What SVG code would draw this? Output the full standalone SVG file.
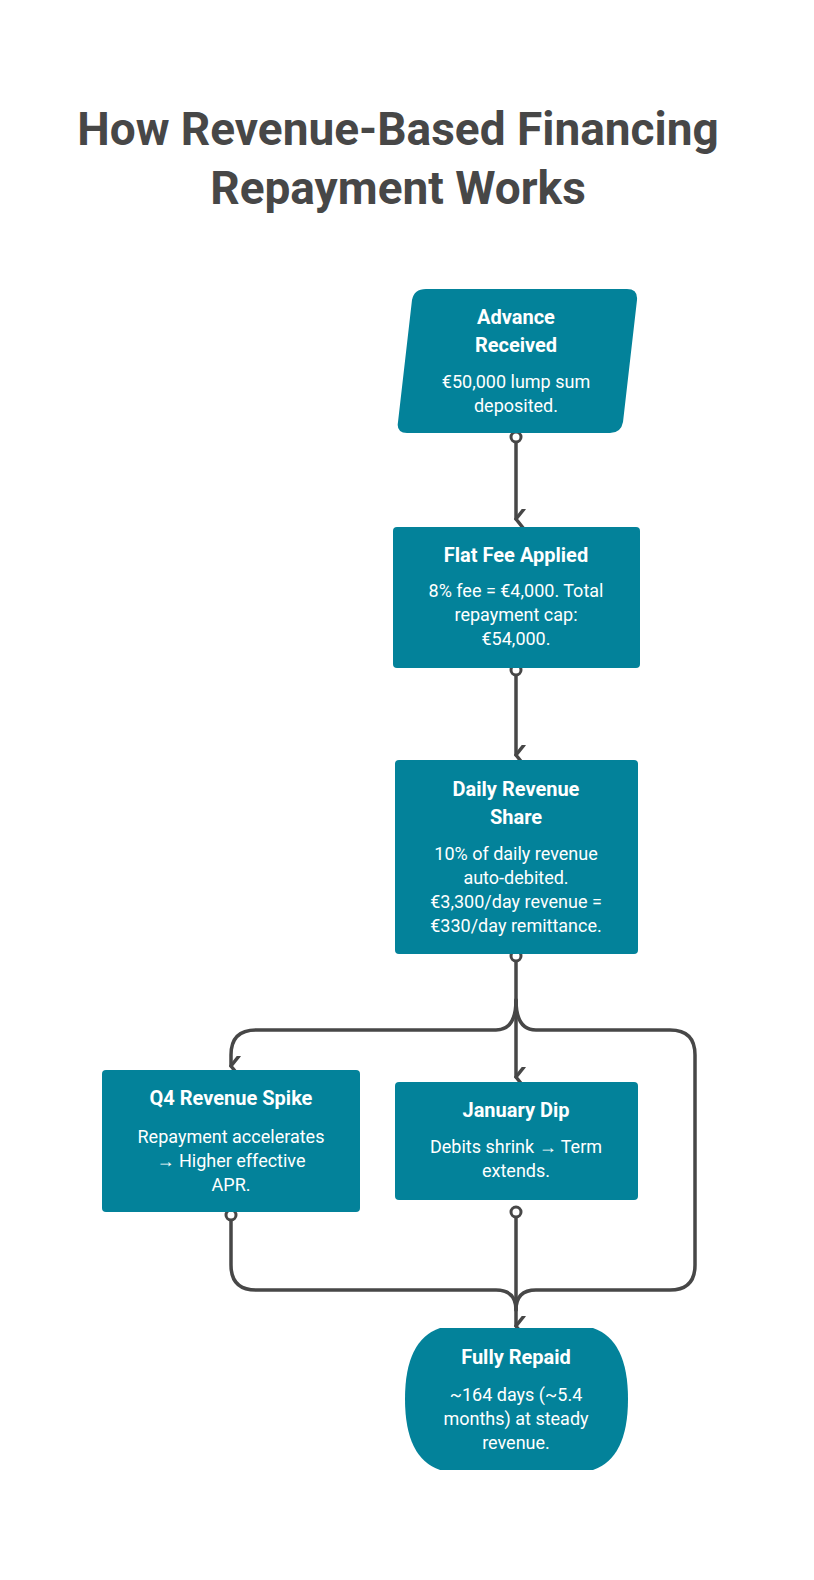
<svg xmlns="http://www.w3.org/2000/svg" width="814" height="1580" viewBox="0 0 814 1580">
<style>
.n{fill:#03829A}
.t{font-family:Roboto,"Liberation Sans",sans-serif;font-weight:700;font-size:20px;fill:#fff;text-anchor:middle}
.b{font-family:Roboto,"Liberation Sans",sans-serif;font-size:18px;fill:#fff;text-anchor:middle}
.h{font-family:Roboto,"Liberation Sans",sans-serif;font-weight:700;font-size:46px;fill:#474747;text-anchor:middle}
.c{fill:none;stroke:#474747;stroke-width:3.5;stroke-linecap:round;stroke-linejoin:round}
.d{fill:#fff;stroke:#474747;stroke-width:3}
</style>
<defs>
<marker id="a" viewBox="0 0 20 20" refX="10" refY="18" markerWidth="20" markerHeight="20" markerUnits="userSpaceOnUse" orient="auto-start-reverse">
<path d="M0 10 L10 18 L20 10" fill="none" stroke="#474747" stroke-width="3.5" stroke-linecap="round"/>
</marker>
</defs>
<rect width="814" height="1580" fill="#fff"/>
<text class="h" x="398" y="145">How Revenue-Based Financing</text>
<text class="h" x="398" y="204">Repayment Works</text>
<g id="connectors">
<path class="c" d="M516 437 V519" marker-end="url(#a)"/>
<path class="c" d="M516 670 V755" marker-end="url(#a)"/>
<path class="c" d="M516 956 V1077" marker-end="url(#a)"/>
<path class="c" d="M516 1000 Q516 1030 496 1030 H256 Q231 1030 231 1055 V1066" marker-end="url(#a)"/>
<path class="c" d="M516 1000 Q516 1030 536 1030 H670 Q695 1030 695 1055 V1265 Q695 1290 670 1290 H536 Q516 1290 516 1310"/>
<path class="c" d="M231 1215 V1265 Q231 1290 256 1290 H496 Q516 1290 516 1310"/>
<path class="c" d="M516 1212 V1326" marker-end="url(#a)"/>
<circle class="d" cx="516" cy="437" r="5"/>
<circle class="d" cx="516" cy="670" r="5"/>
<circle class="d" cx="516" cy="956" r="5"/>
<circle class="d" cx="231" cy="1215" r="5"/>
<circle class="d" cx="516" cy="1212" r="5"/>
</g>
<g id="n1">
<path class="n" d="M426 289 H627 Q638 289 637 300 L623 422 Q621 433 610 433 H407 Q396 433 398 422 L412 300 Q414 289 426 289 Z"/>
<text class="t" x="516" y="324">Advance</text>
<text class="t" x="516" y="352">Received</text>
<text class="b" x="516" y="388">€50,000 lump sum</text>
<text class="b" x="516" y="412">deposited.</text>
</g>
<g id="n2">
<rect class="n" x="393" y="527" width="247" height="141" rx="4"/>
<text class="t" x="516" y="562">Flat Fee Applied</text>
<text class="b" x="516" y="597">8% fee = €4,000. Total</text>
<text class="b" x="516" y="621">repayment cap:</text>
<text class="b" x="516" y="645">€54,000.</text>
</g>
<g id="n3">
<rect class="n" x="395" y="760" width="243" height="194" rx="4"/>
<text class="t" x="516" y="796">Daily Revenue</text>
<text class="t" x="516" y="824">Share</text>
<text class="b" x="516" y="860">10% of daily revenue</text>
<text class="b" x="516" y="884">auto-debited.</text>
<text class="b" x="516" y="908">€3,300/day revenue =</text>
<text class="b" x="516" y="932">€330/day remittance.</text>
</g>
<g id="n4">
<rect class="n" x="102" y="1070" width="258" height="142" rx="4"/>
<text class="t" x="231" y="1105">Q4 Revenue Spike</text>
<text class="b" x="231" y="1143">Repayment accelerates</text>
<text class="b" x="231" y="1167">→ Higher effective</text>
<text class="b" x="231" y="1191">APR.</text>
</g>
<g id="n5">
<rect class="n" x="395" y="1082" width="243" height="118" rx="4"/>
<text class="t" x="516" y="1117">January Dip</text>
<text class="b" x="516" y="1153">Debits shrink → Term</text>
<text class="b" x="516" y="1177">extends.</text>
</g>
<g id="n6">
<path class="n" d="M440 1328 H593 Q628 1340 628 1399 Q628 1458 593 1470 H440 Q405 1458 405 1399 Q405 1340 440 1328 Z"/>
<text class="t" x="516" y="1364">Fully Repaid</text>
<text class="b" x="516" y="1401">~164 days (~5.4</text>
<text class="b" x="516" y="1425">months) at steady</text>
<text class="b" x="516" y="1449">revenue.</text>
</g>
</svg>
